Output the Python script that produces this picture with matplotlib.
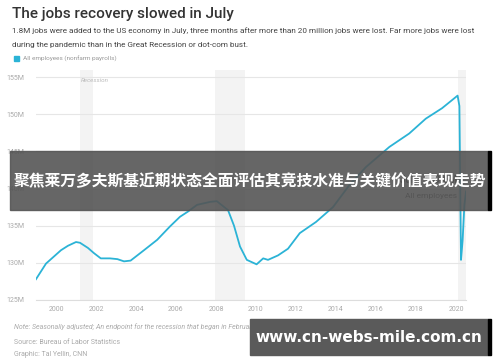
import matplotlib.pyplot as plt

# Nonfarm payrolls (millions)
years = [1999.0, 1999.5, 2000.25, 2000.6, 2001.0, 2001.2, 2001.6, 2001.9, 2002.24, 2002.7,
         2003.07, 2003.4, 2003.73, 2004.4, 2005.06, 2005.7, 2006.2, 2006.6, 2007.05, 2007.7,
         2008.04, 2008.6, 2008.9, 2009.2, 2009.54, 2010.03, 2010.36, 2010.6, 2011.1,
         2011.6, 2012.19, 2013.0, 2013.85, 2014.68, 2015.5, 2016.67, 2017.66, 2018.49,
         2019.3, 2020.08, 2020.17, 2020.25, 2020.33, 2020.42, 2020.5]
payrolls = [127.8, 129.9, 131.7, 132.3, 132.8, 132.7, 132.0, 131.3, 130.6, 130.6,
            130.5, 130.2, 130.3, 131.7, 133.1, 134.9, 136.2, 136.9, 137.8, 138.2,
            138.3, 137.1, 135.0, 132.2, 130.4, 129.8, 130.6, 130.4, 131.0,
            131.9, 134.0, 135.5, 137.5, 140.5, 142.9, 145.6, 147.4, 149.4,
            150.8, 152.5, 151.1, 130.4, 133.0, 137.8, 139.6]
recessions = [(2001.2, 2001.85), (2007.95, 2009.45), (2020.08, 2020.5)]
y_ticks = [125, 130, 135, 140, 145, 150, 155]
x_ticks = list(range(2000, 2021, 2))

W, H = 500, 362
plt.rcParams['font.family'] = ['Roboto', 'DejaVu Sans']
fig = plt.figure(figsize=(W / 100, H / 100), dpi=100)


def fx(px):
    return px / W


def fy(py):
    return 1 - py / H


ax = fig.add_axes([fx(36), fy(300), fx(466) - fx(36), fy(69.6) - fy(300)])
for a, b in recessions:
    ax.axvspan(a, b, color='#f3f3f3', lw=0, zorder=0)
ax.text(recessions[0][0] + 0.05, 154.5, 'Recession', fontsize=4.5, style='italic',
        color='#bbbbbb', va='center')

ax.plot(years, payrolls, color='#2bb3d6', lw=1.3, zorder=3)

ax.set_xlim(1999.0, 2020.5)
ax.set_ylim(125, 156)
ax.set_yticks(y_ticks)
ax.set_yticklabels([f'{v}M' for v in y_ticks])
ax.set_xticks(x_ticks)
ax.grid(axis='y', color='#e6e6e6', lw=0.8)
ax.set_axisbelow(True)
for s in ['top', 'right', 'left']:
    ax.spines[s].set_visible(False)
ax.spines['bottom'].set_color('#dddddd')
ax.tick_params(length=0, labelsize=5, labelcolor='#aaaaaa')
ax.tick_params(axis='y', pad=8)
ax.tick_params(axis='x', pad=4)

ax.text(2020.05, 140.8, 'July: 139.6M', fontsize=7, fontweight='bold', color='#333333', ha='right')
ax.text(2020.05, 138.7, 'All employees', fontsize=6, color='#555555', ha='right')

# header
fig.text(fx(12), fy(14), 'The jobs recovery slowed in July', fontsize=11, color='#333333',
         va='center', fontweight='medium')
fig.text(fx(12), fy(31), '1.8M jobs were added to the US economy in July, three months after more than '
         '20 million jobs were lost. Far more jobs were lost', fontsize=5.9, color='#444444', va='center')
fig.text(fx(12), fy(45), 'during the pandemic than in the Great Recession or dot-com bust.',
         fontsize=5.9, color='#444444', va='center')
fig.patches.append(plt.Rectangle((fx(14), fy(61)), fx(5), fy(0) - fy(5), color='#2bb3d6',
                                 transform=fig.transFigure))
fig.text(fx(23), fy(58.5), 'All employees (nonfarm payrolls)', fontsize=4.6, color='#999999', va='center')

# footer
fig.text(fx(14), fy(327), 'Note: Seasonally adjusted; An endpoint for the recession that began in '
         'February 2020 has not yet been determined.', fontsize=5.0, style='italic',
         color='#aaaaaa', va='center')
fig.text(fx(14), fy(342), 'Source: Bureau of Labor Statistics', fontsize=5.0, color='#aaaaaa', va='center')
fig.text(fx(14), fy(355), 'Graphic: Tal Yellin, CNN', fontsize=5.0, color='#aaaaaa', va='center')

# overlay band with Chinese headline
fig.patches.append(plt.Rectangle((fx(10), fy(210)), fx(478), fy(0) - fy(59), color='#555555',
                                 alpha=0.9, transform=fig.transFigure, zorder=5))
fig.patches.append(plt.Rectangle((fx(488), fy(210)), fx(3), fy(0) - fy(59), color='black',
                                 transform=fig.transFigure, zorder=5))
fig.text(fx(250), fy(181), '聚焦莱万多夫斯基近期状态全面评估其竞技水准与关键价值表现走势',
         fontsize=11.35, fontweight='bold', color='white', ha='center', va='center',
         family=['Noto Sans CJK SC', 'DejaVu Sans'], zorder=6)

# watermark box
fig.patches.append(plt.Rectangle((fx(250), fy(355)), fx(238), fy(0) - fy(36), color='#5a5a5a',
                                 transform=fig.transFigure, zorder=5))
fig.patches.append(plt.Rectangle((fx(488), fy(355)), fx(2.5), fy(0) - fy(36), color='black',
                                 transform=fig.transFigure, zorder=5))
fig.text(fx(369), fy(337), 'www.cn-webs-mile.com.cn', fontsize=11, fontweight='bold', color='white',
         ha='center', va='center', family=['DejaVu Sans'], zorder=6)

fig.savefig('out.png', dpi=100)
